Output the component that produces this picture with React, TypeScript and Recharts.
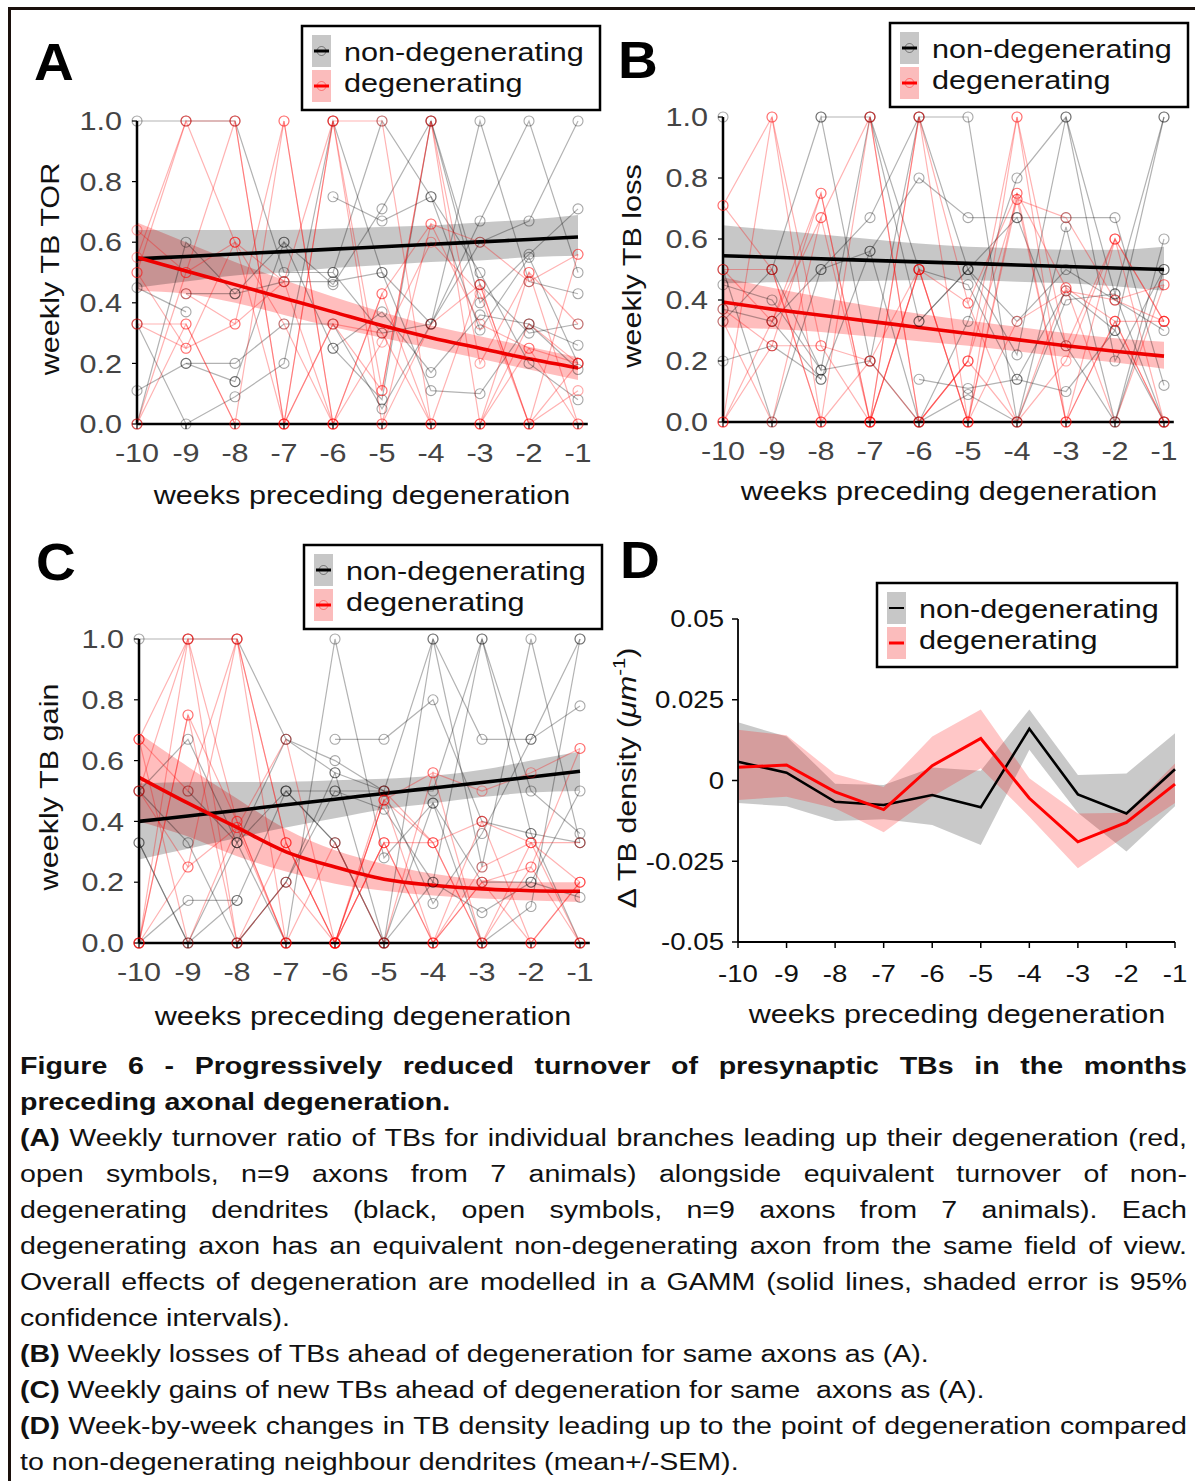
import React from 'react';
import { ComposedChart, Line, Area, XAxis, YAxis } from 'recharts';

const FONT = "'Liberation Sans', Arial, Helvetica, sans-serif";
const SX = 1.2;

// ---------- shared axes ----------
const weeks = [-10, -9, -8, -7, -6, -5, -4, -3, -2, -1];
const fracTicks = [0, 0.2, 0.4, 0.6, 0.8, 1.0];
const densTicks = [-0.05, -0.025, 0, 0.025, 0.05];

type V = number | null;

// ---------- Panel A : weekly TB TOR ----------
const aNonTraces: V[][] = [
  [1.0, 1.0, 1.0, 0.5, 0.5, 0.3, 0.33, 1.0, 0.47, 0.43],
  [0.45, 0.37, null, null, 0.25, 0.37, 0.17, 0.36, 0.33, 0.26],
  [0.11, 0.2, 0.14, null, 0.75, 0.67, 0.75, 0.5, 0.2, 0.08],
  [0.33, 0, 0.09, 0.2, 1.0, 0.5, 0.11, 0.1, 0.33, 0.18],
  [0, 0.6, 0.43, 0.6, 0.46, 0.71, 1.0, 0.4, 0.56, 0.71],
  [null, 0.2, 0.2, 0.33, 0.33, 0.05, 0.33, 0.6, 0.67, 1.0],
  [null, 0.43, 0.43, 0.47, 0.47, 0.5, 0.33, 0.67, 1.0, 0.5],
  [null, null, 0.14, 0.6, 0.25, 0.08, 1.0, 0.46, 0.3, 0.33],
  [null, null, null, null, 0.5, 1.0, 0.75, 0.31, 0.55, 0.2],
];
const aDegTraces: V[][] = [
  [0.55, 1.0, 1.0, 0, 1.0, 1.0, 0, 0, 0.5, 0.33],
  [0.64, 0.5, 0.6, 0.47, 0, 0.43, 0.66, 0.6, 0.47, 0.56],
  [0.33, 0.25, 0.33, 1.0, 0, 0.27, 0.6, 0.43, 0, 0.2],
  [0, 0.33, 0, 0, 1.0, 0.11, 1.0, 0.2, 0.5, 0],
  [0.5, 1.0, 0.6, 0.33, 0, 0, 0.33, 0.46, 0, 0.11],
  [0, 0.5, 1.0, 0, 0.33, 0.3, 0, 0, 0.25, 0.2],
  [null, 0.43, 0.33, 0.47, 1.0, 0, 0.66, 0.33, 0.25, 0],
  [0.33, 0.33, 0, 1.0, 0, 0.43, 0, 0.46, 0, 0.56],
  [0.5, 0.25, 0.6, 0, 0.33, 0.11, 1.0, 0, 0.33, 0.2],
];
const aFitNon = [0.545, 0.553, 0.561, 0.569, 0.577, 0.585, 0.593, 0.601, 0.609, 0.617];
const aNonLo = [0.45, 0.47, 0.49, 0.5, 0.515, 0.525, 0.535, 0.54, 0.55, 0.555];
const aNonHi = [0.64, 0.64, 0.64, 0.64, 0.645, 0.65, 0.655, 0.665, 0.675, 0.69];
const aFitDeg = [0.55, 0.505, 0.46, 0.415, 0.37, 0.325, 0.285, 0.25, 0.215, 0.185];
const aDegLo = [0.44, 0.43, 0.4, 0.36, 0.32, 0.285, 0.25, 0.215, 0.18, 0.145];
const aDegHi = [0.665, 0.6, 0.535, 0.475, 0.42, 0.37, 0.325, 0.29, 0.255, 0.22];

// ---------- Panel B : weekly TB loss ----------
const bNonTraces: V[][] = [
  [1.0, null, 1.0, 1.0, 0.33, 0.5, 0.22, 1.0, 0.42, 1.0],
  [0.45, 0.4, 0.17, 0.2, 1.0, 1.0, 0, 0.64, 0, 0.6],
  [0.2, 0.25, 0.14, null, 0.14, 0.11, 0.14, 0.1, 0.3, 1.0],
  [0.37, 0.33, 0.5, 0.67, 1.0, 0.5, 0.33, 0.5, 0.4, 0.3],
  [0.5, 0, 0.5, 0.56, 0.8, 0.67, 0.67, 0.67, 0.67, 0.12],
  [null, 0.5, 1.0, 0.2, 0, 0.33, 0.8, 1.0, 0.2, 0.5],
  [null, 0.33, 0.14, 0.56, 0, 0.09, 0, 0.4, 0.42, 0],
  [0.33, 0.5, 0.17, 1.0, 0.5, 0.45, 0.14, 0.43, 0.3, 0],
  [null, null, null, null, 0.33, 0.5, 0.67, 0.25, 0, 0.5],
];
const bDegTraces: V[][] = [
  [0.71, 1.0, 0, 0.2, 0.5, 0, 1.0, 0, 0.6, 0.33],
  [0.5, 0.33, 0.75, 0, 1.0, 0.39, 0.75, 0.44, 0.33, 0],
  [0.33, 0, 0.67, 1.0, 0, 0.2, 0.73, 0.67, 0.4, 0.45],
  [0, 0.25, 0.25, 0.2, 0, 0.2, 0, 0.2, 0.6, 0.33],
  [0.5, 0.5, 0, 0, 0.5, 0, 0.33, 0.43, 0.4, 0.33],
  [0, 0.33, 0.67, 0, 1.0, 0, 0.75, 0, 0.33, 0],
  [0.37, 0.25, 0.75, 0, 0.5, 0.39, 0, 0.44, 0, 0.45],
  [0.71, 0.5, 0, 1.0, 0, 0.2, 1.0, 0.25, 0.6, 0],
  [0, 1.0, 0.25, 0, 0.5, 0, 0.73, 0, 0.33, 0.33],
];
const bFitNon = [0.545, 0.54, 0.535, 0.53, 0.525, 0.52, 0.515, 0.51, 0.505, 0.5];
const bNonLo = [0.455, 0.458, 0.46, 0.462, 0.465, 0.465, 0.46, 0.455, 0.445, 0.43];
const bNonHi = [0.645, 0.63, 0.615, 0.6, 0.585, 0.575, 0.57, 0.565, 0.565, 0.575];
const bFitDeg = [0.393, 0.37, 0.35, 0.33, 0.31, 0.29, 0.27, 0.25, 0.232, 0.216];
const bDegLo = [0.31, 0.305, 0.295, 0.28, 0.265, 0.25, 0.232, 0.213, 0.195, 0.175];
const bDegHi = [0.475, 0.44, 0.41, 0.38, 0.355, 0.333, 0.312, 0.292, 0.275, 0.263];

// ---------- Panel C : weekly TB gain ----------
const cNonTraces: V[][] = [
  [1.0, 1.0, 1.0, 0.67, 0.6, 0.5, 1.0, 0.67, 0.67, 1.0],
  [0.5, 0.33, 0, 0.2, 0.56, 0.5, 0.5, 1.0, 0.5, 0.36],
  [0.33, 0, 0.14, null, 0.67, 0.67, 0.8, 0.4, 0.36, 0],
  [0, 0.14, 0.14, 0.5, 0.33, 0, 1.0, 0.25, 1.0, 0.33],
  [0.5, 0.67, 0.33, 0.5, 0.5, 0.44, 0.2, 0.1, 0.2, 0.5],
  [null, 0.5, 0.33, 0, 1.0, 0.28, 0.46, 0.2, 0.2, 0.15],
  [null, null, 0, 0.2, 0.5, 0.5, 0.13, 0.36, 0.67, 0.78],
  [0.33, 0, 0.33, 0.67, 0.56, 0, 0.46, 0, 0.12, 1.0],
  [null, null, null, 0.5, 0.33, 0, 0.2, 1.0, 0.36, 0.33],
];
const cDegTraces: V[][] = [
  [0.67, 1.0, 1.0, 0.33, 0, 0.33, 0.33, 0.4, 0.33, 0.33],
  [0, 0.75, 0.4, 0, 0, 0.47, 0.56, 0.5, 0.56, 0.64],
  [0.5, 0.25, 0.38, 0.67, 0, 0.33, 0, 0.2, 0.25, 0],
  [0, 1.0, 0, 0.2, 0, 0.5, 0.33, 0, 0, 0.2],
  [0.67, 0.5, 1.0, 0, 0, 0, 0, 0.25, 0.33, 0],
  [0, 0.75, 0, 0.33, 0, 0.47, 0, 0.4, 0, 0.2],
  [0.5, 1.0, 0.4, 0, 0.33, 0, 0.56, 0, 0.25, 0.64],
  [0, 0.25, 1.0, 0.33, 0, 0.33, 0, 0.2, 0, 0],
  [0.67, 0, 0.38, 0, 0, 0.47, 0.33, 0, 0.33, 0.2],
];
const cFitNon = [0.4, 0.418, 0.436, 0.455, 0.473, 0.492, 0.51, 0.528, 0.546, 0.565];
const cNonLo = [0.275, 0.31, 0.345, 0.38, 0.41, 0.44, 0.46, 0.48, 0.495, 0.5];
const cNonHi = [0.525, 0.53, 0.53, 0.53, 0.535, 0.54, 0.55, 0.57, 0.6, 0.63];
const cFitDeg = [0.545, 0.46, 0.38, 0.3, 0.25, 0.21, 0.19, 0.178, 0.172, 0.17];
const cDegLo = [0.4, 0.35, 0.285, 0.235, 0.195, 0.172, 0.156, 0.146, 0.14, 0.135];
const cDegHi = [0.69, 0.58, 0.475, 0.375, 0.305, 0.26, 0.228, 0.208, 0.2, 0.2];

// ---------- Panel D : delta TB density (mean +/- SEM) ----------
const dNonMean = [0.0058, 0.0024, -0.0066, -0.0076, -0.0045, -0.0083, 0.016, -0.0043, -0.0102, 0.0035];
const dNonLo = [-0.007, -0.008, -0.0125, -0.012, -0.0138, -0.02, 0.0095, -0.01, -0.022, -0.008];
const dNonHi = [0.018, 0.0136, -0.001, -0.0014, 0.004, 0.003, 0.022, 0.0017, 0.0022, 0.0146];
const dDegMean = [0.0041, 0.0048, -0.0035, -0.009, 0.0046, 0.013, -0.0055, -0.019, -0.013, -0.0011];
const dDegLo = [-0.006, -0.005, -0.0086, -0.016, -0.005, 0.0038, -0.0112, -0.0272, -0.017, -0.007];
const dDegHi = [0.0157, 0.014, 0.002, -0.002, 0.0136, 0.022, 0.0007, -0.0102, -0.01, 0.0053];

// ---------- caption ----------
const captionLines: [string, string, boolean][] = [
  ['Figure 6 - Progressively reduced turnover of presynaptic TBs in the months', '', true],
  ['preceding axonal degeneration.', '', false],
  ['(A)', ' Weekly turnover ratio of TBs for individual branches leading up their degeneration (red,', true],
  ['', 'open symbols, n=9 axons from 7 animals) alongside equivalent turnover of non-', true],
  ['', 'degenerating dendrites (black, open symbols, n=9 axons from 7 animals). Each', true],
  ['', 'degenerating axon has an equivalent non-degenerating axon from the same field of view.', true],
  ['', 'Overall effects of degeneration are modelled in a GAMM (solid lines, shaded error is 95%', true],
  ['', 'confidence intervals).', false],
  ['(B)', ' Weekly losses of TBs ahead of degeneration for same axons as (A).', false],
  ['(C)', ' Weekly gains of new TBs ahead of degeneration for same\u00a0 axons as (A).', false],
  ['(D)', ' Week-by-week changes in TB density leading up to the point of degeneration compared', true],
  ['', 'to non-degenerating neighbour dendrites (mean+/-SEM).', false],
];

function buildRows(non: V[][], deg: V[][], fitN: number[], nLo: number[], nHi: number[], fitD: number[], dLo: number[], dHi: number[]) {
  return weeks.map((x, i) => {
    const row: any = { x, fitN: fitN[i], fitD: fitD[i], bandN: [nLo[i], nHi[i]], bandD: [dLo[i], dHi[i]] };
    non.forEach((t, k) => { row['n' + k] = t[i]; });
    deg.forEach((t, k) => { row['d' + k] = t[i]; });
    return row;
  });
}

const rowsA = buildRows(aNonTraces, aDegTraces, aFitNon, aNonLo, aNonHi, aFitDeg, aDegLo, aDegHi);
const rowsB = buildRows(bNonTraces, bDegTraces, bFitNon, bNonLo, bNonHi, bFitDeg, bDegLo, bDegHi);
const rowsC = buildRows(cNonTraces, cDegTraces, cFitNon, cNonLo, cNonHi, cFitDeg, cDegLo, cDegHi);
const rowsD = weeks.map((x, i) => ({
  x,
  non: dNonMean[i],
  deg: dDegMean[i],
  bandN: [dNonLo[i], dNonHi[i]],
  bandD: [dDegLo[i], dDegHi[i]],
}));

function XTick(props: any) {
  const { x, y, payload, size, color } = props;
  return (
    <text transform={`translate(${x},${y}) scale(${SX},1)`} textAnchor="middle" dy="0.71em"
      fontSize={size} fill={color} fontFamily={FONT}>{String(payload.value)}</text>
  );
}
function YTick(props: any) {
  const { x, y, payload, size, color, fmt } = props;
  return (
    <text transform={`translate(${x},${y}) scale(${SX},1)`} textAnchor="end" dy="0.36em"
      fontSize={size} fill={color} fontFamily={FONT}>{fmt(payload.value)}</text>
  );
}

const TRACE_OP = 0.3;

function TracePanel(p: any) {
  const { rows, nNon, nDeg, left, top, width, height, mTop, mRight, yW, xH } = p;
  return (
    <div style={{ position: 'absolute', left, top, width, height }}>
      <ComposedChart width={width} height={height} data={rows} margin={{ top: mTop, right: mRight, bottom: 0, left: 0 }}>
        <XAxis dataKey="x" type="number" domain={[-10, -0.8]} ticks={weeks} interval={0} height={xH}
          tickSize={5} tickMargin={15} axisLine={{ stroke: '#000', strokeWidth: 2.5 }}
          tickLine={{ stroke: '#000', strokeWidth: 1.2 }}
          tick={(t: any) => <XTick {...t} size={25.5} color="#444" />} />
        <YAxis type="number" domain={[0, 1]} ticks={fracTicks} interval={0} width={yW}
          tickSize={5} tickMargin={10} axisLine={{ stroke: '#000', strokeWidth: 2.5 }}
          tickLine={{ stroke: '#000', strokeWidth: 1.2 }}
          tick={(t: any) => <YTick {...t} size={25.5} color="#444" fmt={(v: number) => v.toFixed(1)} />} />
        {Array.from({ length: nNon }).map((_, k) => (
          <Line key={'n' + k} dataKey={'n' + k} type="linear" stroke="#000" strokeOpacity={TRACE_OP} strokeWidth={1.2}
            dot={{ r: 5, fill: 'none', stroke: '#000', strokeOpacity: TRACE_OP + 0.05, strokeWidth: 1.1 }}
            activeDot={false} isAnimationActive={false} connectNulls={false} />
        ))}
        {Array.from({ length: nDeg }).map((_, k) => (
          <Line key={'d' + k} dataKey={'d' + k} type="linear" stroke="#ff0000" strokeOpacity={TRACE_OP} strokeWidth={1.2}
            dot={{ r: 5, fill: 'none', stroke: '#ff0000', strokeOpacity: TRACE_OP + 0.05, strokeWidth: 1.1 }}
            activeDot={false} isAnimationActive={false} connectNulls={false} />
        ))}
        <Area dataKey="bandD" type="monotone" stroke="none" fill="#ff0000" fillOpacity={0.26}
          isAnimationActive={false} activeDot={false} dot={false} />
        <Area dataKey="bandN" type="monotone" stroke="none" fill="#000" fillOpacity={0.22}
          isAnimationActive={false} activeDot={false} dot={false} />
        <Line dataKey="fitN" type="monotone" stroke="#000" strokeWidth={3.6} dot={false} activeDot={false} isAnimationActive={false} />
        <Line dataKey="fitD" type="monotone" stroke="#ee0000" strokeWidth={3.6} dot={false} activeDot={false} isAnimationActive={false} />
      </ComposedChart>
    </div>
  );
}

function DensityPanel() {
  return (
    <div style={{ position: 'absolute', left: 595, top: 520, width: 600, height: 530 }}>
      <ComposedChart width={600} height={530} data={rowsD} margin={{ top: 99, right: 20, bottom: 0, left: 0 }}>
        <XAxis dataKey="x" type="number" domain={[-10, -1]} ticks={weeks} interval={0} height={108}
          tickSize={6} tickMargin={18} axisLine={{ stroke: '#000', strokeWidth: 1.8 }}
          tickLine={{ stroke: '#000', strokeWidth: 1.5 }}
          tick={(t: any) => <XTick {...t} size={23} color="#111" />} />
        <YAxis type="number" domain={[-0.05, 0.05]} ticks={densTicks} interval={0} width={143}
          tickSize={6} tickMargin={8} axisLine={{ stroke: '#000', strokeWidth: 1.8 }}
          tickLine={{ stroke: '#000', strokeWidth: 1.5 }}
          tick={(t: any) => <YTick {...t} size={23} color="#111" fmt={(v: number) => String(v)} />} />
        <Area dataKey="bandN" type="linear" stroke="none" fill="#000" fillOpacity={0.21}
          isAnimationActive={false} activeDot={false} dot={false} />
        <Area dataKey="bandD" type="linear" stroke="none" fill="#ff0000" fillOpacity={0.22}
          isAnimationActive={false} activeDot={false} dot={false} />
        <Line dataKey="non" type="linear" stroke="#000" strokeWidth={2.6} dot={false} activeDot={false} isAnimationActive={false} />
        <Line dataKey="deg" type="linear" stroke="#ff0000" strokeWidth={3} dot={false} activeDot={false} isAnimationActive={false} />
      </ComposedChart>
    </div>
  );
}

function STxt(p: any) {
  const { x, y, children, size = 25.5, anchor = 'start', rot = false, weight = 400, fill = '#111', sx = SX } = p;
  const tr = `translate(${x},${y})${rot ? ' rotate(-90)' : ''} scale(${sx},1)`;
  return (
    <text transform={tr} textAnchor={anchor} fontSize={size} fontWeight={weight} fill={fill} fontFamily={FONT}>{children}</text>
  );
}

function LegendBox(p: any) {
  const { x, y, w = 298, h = 84, circles = true, blackW = 3 } = p;
  return (
    <g>
      <rect x={x} y={y} width={w} height={h} fill="#fff" stroke="#000" strokeWidth={2.5} />
      <rect x={x + 10} y={y + 9} width={19} height={32} fill="#c7c7c7" />
      <rect x={x + 10} y={y + 44} width={19} height={32} fill="#fbbcbc" />
      {circles && <circle cx={x + 19.5} cy={y + 25} r={4.5} fill="none" stroke="#000" strokeOpacity={0.4} />}
      {circles && <circle cx={x + 19.5} cy={y + 60} r={4.5} fill="none" stroke="#ff0000" strokeOpacity={0.4} />}
      <line x1={x + 12} x2={x + 27} y1={y + 25} y2={y + 25} stroke="#000" strokeWidth={blackW} />
      <line x1={x + 12} x2={x + 27} y1={y + 60} y2={y + 60} stroke="#ff0000" strokeWidth={3} />
      <STxt x={x + 42} y={y + 35}>non-degenerating</STxt>
      <STxt x={x + 42} y={y + 66}>degenerating</STxt>
    </g>
  );
}

function Overlay() {
  return (
    <svg width={1195} height={1481} style={{ position: 'absolute', left: 0, top: 0, pointerEvents: 'none' }}>
      <line x1={8} x2={1195} y1={8.5} y2={8.5} stroke="#1a100c" strokeWidth={3} />
      <line x1={9.5} x2={9.5} y1={7} y2={1481} stroke="#1a100c" strokeWidth={3} />

      <STxt x={34} y={80} size={52} weight={700} fill="#000" sx={1.06}>A</STxt>
      <STxt x={618} y={78} size={52} weight={700} fill="#000" sx={1.06}>B</STxt>
      <STxt x={36} y={580} size={52} weight={700} fill="#000" sx={1.06}>C</STxt>
      <STxt x={620} y={578} size={52} weight={700} fill="#000" sx={1.06}>D</STxt>

      <LegendBox x={302} y={26} />
      <LegendBox x={890} y={23} />
      <LegendBox x={304} y={545} />
      <LegendBox x={877} y={583} w={300} circles={false} blackW={2} />

      <STxt x={362} y={504} anchor="middle">weeks preceding degeneration</STxt>
      <STxt x={949} y={500} anchor="middle">weeks preceding degeneration</STxt>
      <STxt x={363} y={1025} anchor="middle">weeks preceding degeneration</STxt>
      <STxt x={957} y={1023} anchor="middle">weeks preceding degeneration</STxt>

      <STxt x={59} y={269} anchor="middle" rot>weekly TB TOR</STxt>
      <STxt x={641} y={266} anchor="middle" rot>weekly TB loss</STxt>
      <STxt x={58} y={787} anchor="middle" rot>weekly TB gain</STxt>
      <text transform={`translate(636,778) rotate(-90) scale(${SX},1)`} textAnchor="middle" fontSize={25.5} fill="#111" fontFamily={FONT}>
        {'\u0394 TB density ('}
        <tspan fontStyle="italic">{'\u03bcm'}</tspan>
        <tspan dy={-11} fontSize={17}>-1</tspan>
        <tspan dy={11}>)</tspan>
      </text>
    </svg>
  );
}

function Caption() {
  return (
    <div style={{
      position: 'absolute', left: 20, top: 1048, width: 960, transform: 'scaleX(1.2156)', transformOrigin: '0 0',
      fontFamily: FONT, fontSize: 23.5, lineHeight: '36px', color: '#111',
    }}>
      {captionLines.map(([b, t, j], i) => (
        <div key={i} style={{ height: 36, whiteSpace: 'nowrap', textAlign: j ? 'justify' : 'left', textAlignLast: j ? 'justify' : 'left' } as any}>
          {b && <b style={{ fontWeight: 700 }}>{b}</b>}
          {t && <span>{t}</span>}
        </div>
      ))}
    </div>
  );
}

export default function App() {
  return (
    <div style={{ position: 'relative', width: 1195, height: 1481, background: '#fff', overflow: 'hidden' }}>
      <style>{'body{margin:0}'}</style>
      <TracePanel rows={rowsA} nNon={aNonTraces.length} nDeg={aDegTraces.length}
        left={0} top={0} width={620} height={530} mTop={121} mRight={32.2} yW={137} xH={106} />
      <TracePanel rows={rowsB} nNon={bNonTraces.length} nDeg={bDegTraces.length}
        left={595} top={0} width={600} height={530} mTop={117} mRight={21.2} yW={128} xH={108} />
      <TracePanel rows={rowsC} nNon={cNonTraces.length} nDeg={cDegTraces.length}
        left={0} top={520} width={620} height={530} mTop={119} mRight={30.2} yW={139} xH={107} />
      <DensityPanel />
      <Overlay />
      <Caption />
    </div>
  );
}
